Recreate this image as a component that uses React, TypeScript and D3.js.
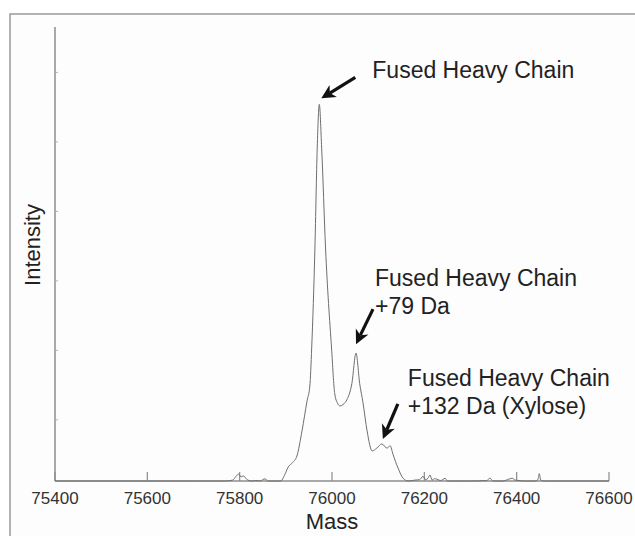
import React from "react";
import * as d3 from "d3";

const masses = [
  75400, 75500, 75600, 75700, 75770, 75785, 75792, 75798, 75803, 75808, 75815, 75825, 75835, 75845,
  75850, 75855, 75862, 75875, 75889, 75897, 75905, 75915, 75924, 75935, 75946, 75952, 75956, 75963,
  75968, 75972.5, 75977.6, 75986, 75999, 76006, 76012, 76017, 76024, 76032, 76043, 76052, 76060, 76067,
  76076, 76087, 76097, 76108, 76119, 76126, 76132, 76143, 76154, 76165, 76180, 76190, 76197, 76203,
  76208, 76212, 76217, 76222, 76227, 76235, 76240, 76245, 76250, 76265, 76300, 76335, 76342, 76349,
  76370, 76383, 76390, 76397, 76420, 76440, 76446, 76449, 76452, 76460, 76500, 76600,
];
const intensities = [
  0, 0, 0, 0, 0, 0.2, 1.0, 1.5, 0.9, 1.1, 0.4, 0, 0.1, 0,
  0.3, 0.45, 0, 0, 0, 1.2, 3.0, 4.0, 5.4, 10.8, 17.3, 20.5, 28.7, 50.3,
  71.9, 81.3, 71.9, 50.3, 28.7, 18.8, 16.8, 16.2, 16.5, 17.5, 21.0, 27.6, 21.0, 17.0,
  10.8, 6.5, 7.1, 8.0, 7.1, 7.6, 5.8, 2.8, 0.6, 0, 0.2, 0.3, 1.0, 0.3,
  0.6, 1.3, 0.2, 0.5, 0.4, 0.1, 0.3, 0.6, 0, 0, 0, 0.1, 0.6, 0,
  0, 0.4, 0.6, 0.2, 0, 0, 0.3, 1.6, 0.2, 0, 0, 0,
];

const xTicks = [75400, 75600, 75800, 76000, 76200, 76400, 76600];
const yTicks = [13.2, 28.2, 43.2, 58.2, 73.2, 88.2];
const xDomain = [75400, 76600];
const yDomain = [0, 98];

const annMass = [75972.5, 76052, 76108];
const annIntensity = [81.3, 27.6, 8.0];
const annLines = [
  ["Fused Heavy Chain"],
  ["Fused Heavy Chain", "+79 Da"],
  ["Fused Heavy Chain", "+132 Da (Xylose)"],
];

export default function App() {
  const W = 635;
  const H = 536;
  const x = d3.scaleLinear().domain(xDomain).range([55, 609]);
  const y = d3.scaleLinear().domain(yDomain).range([481, 27]);

  const data = masses.map((m, i) => ({ m, v: intensities[i] }));
  const line = d3
    .line<{ m: number; v: number }>()
    .x((d) => x(d.m))
    .y((d) => y(d.v))
    .curve(d3.curveMonotoneX);

  // arrow geometry offsets (px) relative to peak
  const arrowHead = [
    [2, -6],
    [0, -9],
    [1, -5],
  ];
  const arrowTail = [
    [36, -27],
    [17, -44],
    [16, -40],
  ];
  const textPos = [
    [53, -26],
    [19, -67],
    [26, -58],
  ];

  const arrow = (hx: number, hy: number, tx: number, ty: number) => {
    const dx = hx - tx;
    const dy = hy - ty;
    const len = Math.sqrt(dx * dx + dy * dy);
    const ux = dx / len;
    const uy = dy / len;
    const px = -uy;
    const py = ux;
    const headLen = 14;
    const headW = 7;
    const notch = 4;
    const bx = hx - ux * headLen;
    const by = hy - uy * headLen;
    const nx = hx - ux * (headLen - notch);
    const ny = hy - uy * (headLen - notch);
    const pts = [
      [hx, hy],
      [bx + px * headW, by + py * headW],
      [nx, ny],
      [bx - px * headW, by - py * headW],
    ];
    return (
      <g>
        <line x1={tx} y1={ty} x2={nx} y2={ny} stroke="#111" strokeWidth={3.2} />
        <polygon points={pts.map((p) => p.join(",")).join(" ")} fill="#111" />
      </g>
    );
  };

  return (
    <svg
      width={W}
      height={H}
      style={{ position: "absolute", left: 0, top: 0, background: "#fff" }}
      fontFamily="'Liberation Sans', Arial, sans-serif"
    >
      <rect x={10} y={14} width={700} height={600} fill="#fdfdfd" stroke="#9a9a9a" strokeWidth={1.5} />
      {/* axes */}
      <line x1={x(xDomain[0])} x2={x(xDomain[1])} y1={y(0)} y2={y(0)} stroke="#8c8c8c" strokeWidth={1.5} />
      <line x1={x(xDomain[0])} x2={x(xDomain[0])} y1={y(0)} y2={y(yDomain[1])} stroke="#8c8c8c" strokeWidth={1.5} />
      {xTicks.map((t) => (
        <g key={t}>
          <line x1={x(t)} x2={x(t)} y1={y(0)} y2={y(0) - 9} stroke="#8c8c8c" strokeWidth={1.2} />
          <text x={x(t)} y={504} textAnchor="middle" fontSize={17} fill="#333">
            {t}
          </text>
        </g>
      ))}
      {yTicks.map((t) => (
        <line key={t} x1={x(xDomain[0])} x2={x(xDomain[0]) + 3} y1={y(t)} y2={y(t)} stroke="#b5b5b5" strokeWidth={1} />
      ))}
      <text x={332} y={529} textAnchor="middle" fontSize={22} fill="#222">
        Mass
      </text>
      <text transform="translate(40,245) rotate(-90)" textAnchor="middle" fontSize={22} fill="#222">
        Intensity
      </text>
      {/* spectrum */}
      <path d={line(data) || ""} fill="none" stroke="#6e6e6e" strokeWidth={1} />
      {/* annotations */}
      {annMass.map((m, i) => {
        const px = x(m);
        const py = y(annIntensity[i]);
        return (
          <g key={i}>
            {arrow(px + arrowHead[i][0], py + arrowHead[i][1], px + arrowTail[i][0], py + arrowTail[i][1])}
            {annLines[i].map((s, j) => (
              <text
                key={j}
                x={px + textPos[i][0]}
                y={py + textPos[i][1] + j * 28}
                fontSize={23}
                fill="#222"
              >
                {s}
              </text>
            ))}
          </g>
        );
      })}
    </svg>
  );
}
